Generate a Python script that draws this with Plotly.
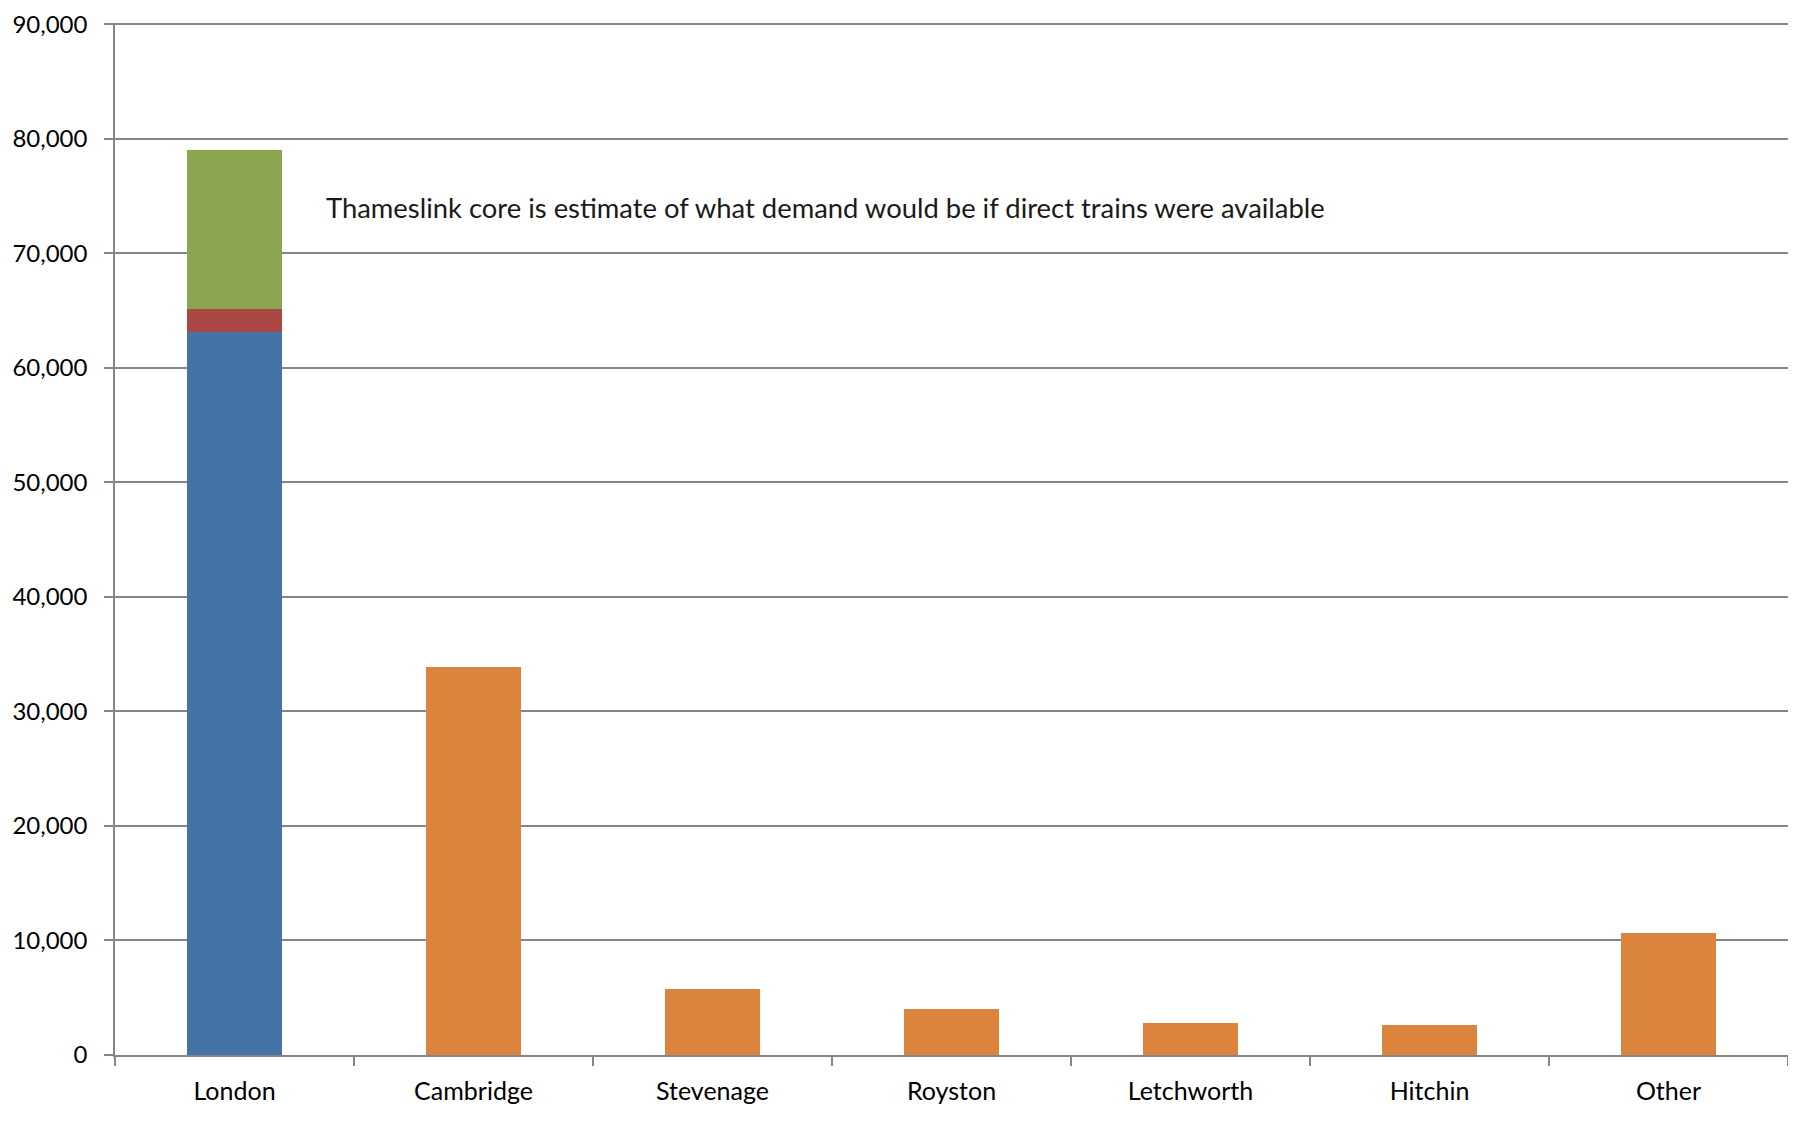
import plotly.graph_objects as go

categories = ["London", "Cambridge", "Stevenage", "Royston", "Letchworth", "Hitchin", "Other"]
london_base = [63100, None, None, None, None, None, None]
london_red = [2000, None, None, None, None, None, None]
thameslink_core = [13900, None, None, None, None, None, None]
other_dest = [None, 33900, 5800, 4000, 2800, 2650, 10650]
y_ticks = [0, 10000, 20000, 30000, 40000, 50000, 60000, 70000, 80000, 90000]
note = "Thameslink core is estimate of what demand would be if direct trains were available"

FONT = "Lato"
GRID = "#868686"

fig = go.Figure()
for vals, col in [(london_base, "#4572A7"), (london_red, "#AA4643"),
                  (thameslink_core, "#89A54E"), (other_dest, "#DB843D")]:
    fig.add_trace(go.Bar(x=categories, y=vals, marker=dict(color=col, line=dict(width=0)),
                         showlegend=False))

fig.update_layout(
    width=1780, height=1105,
    barmode="stack", bargap=0.6,
    paper_bgcolor="white", plot_bgcolor="white",
    margin=dict(l=107, r=0, t=15, b=58),
    font=dict(family=FONT, size=22, color="#000000"),
    xaxis=dict(
        type="category", showline=True, linecolor=GRID, linewidth=1.5, automargin=False,
        ticks="outside", tickson="boundaries", ticklen=9, tickcolor=GRID, tickwidth=1.5,
        tickfont=dict(family=FONT, size=25, color="#000"), ticklabelstandoff=13,
        showgrid=False, range=[-0.5, 6.5],
    ),
    yaxis=dict(
        range=[0, 90100], tickvals=y_ticks, tickformat=",", automargin=False,
        showline=True, linecolor=GRID, linewidth=1.5, ticklabeloverflow="allow",
        ticks="outside", ticklen=9, tickcolor=GRID, tickwidth=1.5,
        showgrid=True, gridcolor=GRID, gridwidth=1.5, zeroline=False,
        tickfont=dict(family=FONT, size=24, color="#000"), ticklabelstandoff=12,
    ),
    annotations=[dict(
        text=note, x=0.125, xref="paper", y=74000, yref="y",
        xanchor="left", yanchor="middle", showarrow=False,
        font=dict(family=FONT, size=27.4, color="#1a1a1a"),
    )],
)

fig.write_html("out.html")
